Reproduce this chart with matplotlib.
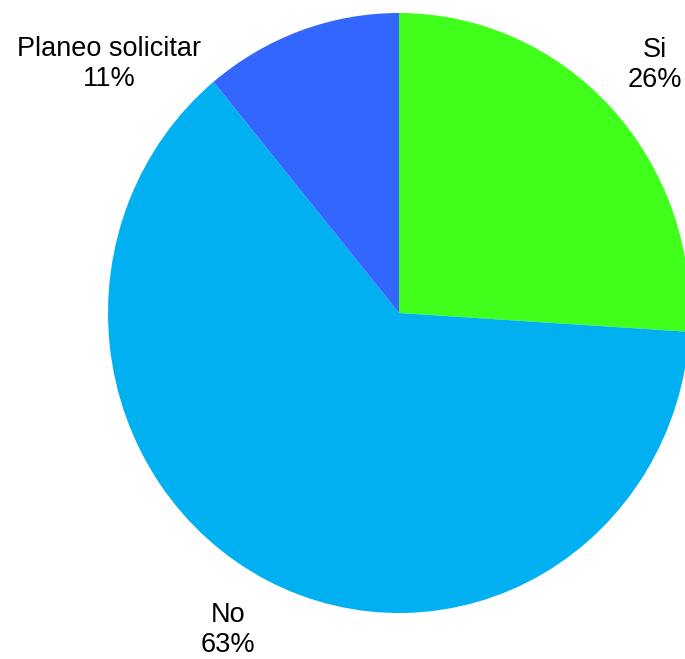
import matplotlib.pyplot as plt
import matplotlib.transforms as mtransforms

labels = ["Si", "No", "Planeo solicitar"]
shares = [26, 63, 11]
colors = ["#40FF1A", "#00B0F0", "#3366FF"]

# label anchor points in pixel space (x, y from top)
label_pos = [(655, 65), (228, 630), (109, 64)]

W, H = 685, 659
fig = plt.figure(figsize=(W / 100, H / 100), dpi=100)
ax = fig.add_axes([0, 0, 1, 1])
ax.set_xlim(0, W)
ax.set_ylim(0, H)
ax.axis("off")

wedges, _ = ax.pie(shares, colors=colors, startangle=90, counterclock=False,
                   radius=1, center=(0, 0), wedgeprops=dict(linewidth=0))
# slightly elliptical pie, as in the reference
tr = mtransforms.Affine2D().scale(291, 300).translate(399, H - 313) + ax.transData
for w in wedges:
    w.set_transform(tr)
ax.set_xlim(0, W)
ax.set_ylim(0, H)

for lab, val, (x, y) in zip(labels, shares, label_pos):
    ax.text(x, H - y, f"{lab}\n{val}%", ha="center", va="center",
            fontsize=19.5, family="Liberation Sans", linespacing=1.18)

fig.savefig("out.png", dpi=100)
